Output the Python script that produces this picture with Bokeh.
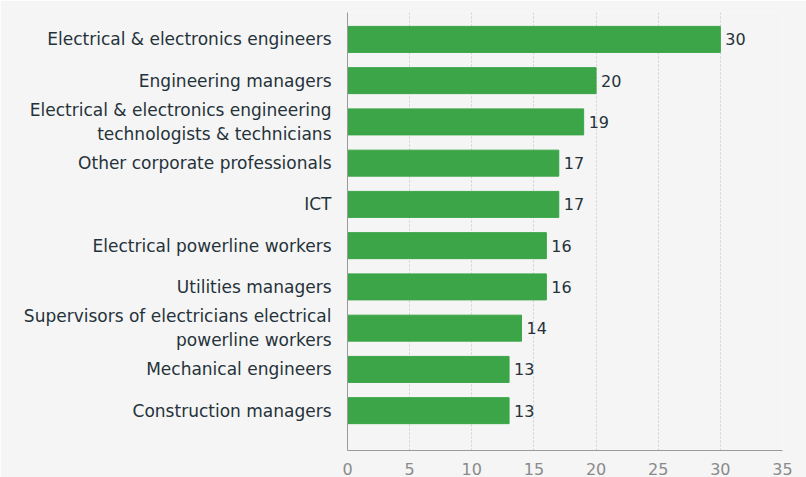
from bokeh.plotting import figure
from bokeh.models import ColumnDataSource, FixedTicker, Range1d
from bokeh.core.properties import value
from bokeh.embed import file_html
from bokeh.resources import INLINE

categories = [
    "Electrical & electronics engineers",
    "Engineering managers",
    "Electrical & electronics engineering\ntechnologists & technicians",
    "Other corporate professionals",
    "ICT",
    "Electrical powerline workers",
    "Utilities managers",
    "Supervisors of electricians electrical\npowerline workers",
    "Mechanical engineers",
    "Construction managers",
]
values = [30, 20, 19, 17, 17, 16, 16, 14, 13, 13]
x_ticks = [0, 5, 10, 15, 20, 25, 30, 35]

n = len(categories)
ypos = [n - 1 - i for i in range(n)]
labels = [str(v) for v in values]

src = ColumnDataSource(dict(y=ypos, v=values, lab=labels))

FONT = "DejaVu Sans"
BG = "#f5f5f5"
TXT = "#25323a"

p = figure(width=806, height=477, output_backend="svg", toolbar_location=None,
           x_range=Range1d(0, 35), y_range=Range1d(-0.966, 9.652),
           background_fill_color=BG, border_fill_color=BG,
           min_border_left=347, min_border_right=24, min_border_top=12, min_border_bottom=25)
p.outline_line_color = None

p.hbar(y="y", right="v", left=0, height=0.63, source=src, color="#3ba547")
p.text(x="v", y="y", text="lab", source=src, x_offset=5, text_baseline="middle",
       text_align="left", text_font=value(FONT), text_font_size="16px", text_color=TXT)

p.xaxis.ticker = FixedTicker(ticks=x_ticks)
p.xaxis.axis_line_color = "#9a9a9a"
p.xaxis.major_tick_line_color = None
p.xaxis.minor_tick_line_color = None
p.xaxis.major_label_text_font = FONT
p.xaxis.major_label_text_font_size = "16px"
p.xaxis.major_label_text_color = "#8a8a8a"
p.xaxis.major_label_standoff = 6

p.yaxis.ticker = FixedTicker(ticks=ypos)
p.yaxis.major_label_overrides = {y: c for y, c in zip(ypos, categories)}
p.yaxis.axis_line_color = "#9a9a9a"
p.yaxis.major_tick_line_color = None
p.yaxis.minor_tick_line_color = None
p.yaxis.major_label_text_font = FONT
p.yaxis.major_label_text_font_size = "17px"
p.yaxis.major_label_text_color = TXT
p.yaxis.major_label_standoff = 10

p.ygrid.grid_line_color = None
p.xgrid.grid_line_color = "#cfcfcf"
p.xgrid.grid_line_dash = "2 2"

open("out.html", "w").write(file_html(p, INLINE))
